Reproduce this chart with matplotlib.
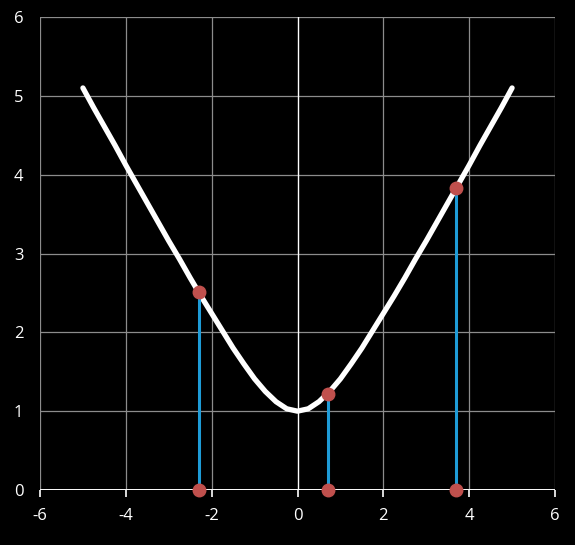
import matplotlib
matplotlib.use('Agg')
import matplotlib.pyplot as plt

# curve values (x step 0.25)
curve_x = [-5.0, -4.75, -4.5, -4.25, -4.0, -3.75, -3.5, -3.25, -3.0, -2.75,
           -2.5, -2.25, -2.0, -1.75, -1.5, -1.25, -1.0, -0.75, -0.5, -0.25,
           0.0, 0.25, 0.5, 0.75, 1.0, 1.25, 1.5, 1.75, 2.0, 2.25,
           2.5, 2.75, 3.0, 3.25, 3.5, 3.75, 4.0, 4.25, 4.5, 4.75, 5.0]
curve_y = [5.10, 4.85, 4.61, 4.37, 4.12, 3.88, 3.64, 3.40, 3.16, 2.93,
           2.69, 2.46, 2.24, 2.02, 1.80, 1.60, 1.41, 1.25, 1.12, 1.03,
           1.00, 1.03, 1.12, 1.25, 1.41, 1.60, 1.80, 2.02, 2.24, 2.46,
           2.69, 2.93, 3.16, 3.40, 3.64, 3.88, 4.12, 4.37, 4.61, 4.85, 5.10]

# sample points
pts_x = [-2.3, 0.7, 3.7]
pts_y = [2.51, 1.22, 3.83]

xticks = [-6, -4, -2, 0, 2, 4, 6]
yticks = [0, 1, 2, 3, 4, 5, 6]

plt.rcParams['font.family'] = ['Open Sans', 'DejaVu Sans']

fig = plt.figure(figsize=(5.75, 5.45), dpi=100, facecolor='black')
ax = fig.add_axes([40/575, 55/545, 515/575, 473/545], facecolor='black')

grid_c = '#8c8c8c'
for t in xticks:
    if t != 0:
        ax.axvline(t, color=grid_c, lw=0.9, zorder=1)
for t in yticks[1:]:
    ax.axhline(t, color=grid_c, lw=0.9, zorder=1)
ax.axvline(0, color='white', lw=1.0, zorder=1)
ax.axhline(0, color='white', lw=1.4, zorder=2)

ax.plot(curve_x, curve_y, color='white', lw=3.8, solid_capstyle='round',
        solid_joinstyle='round', zorder=3)

for px, py in zip(pts_x, pts_y):
    ax.plot([px, px], [0, py], color='#1e9bd7', lw=2.2, zorder=4)
ax.plot(pts_x, pts_y, 'o', color='#c0504d', ms=9, zorder=5, clip_on=False)
ax.plot(pts_x, [0]*len(pts_x), 'o', color='#c0504d', ms=9, zorder=5, clip_on=False)

ax.set_xlim(-6, 6)
ax.set_ylim(0, 6)
ax.set_xticks(xticks)
ax.set_yticks(yticks)
ax.set_xticklabels([str(t) for t in xticks])
ax.set_yticklabels([str(t) for t in yticks])
ax.tick_params(axis='x', colors='white', length=5, width=1.2, pad=8, labelsize=12, direction='out')
ax.tick_params(axis='y', colors='white', length=0, pad=12, labelsize=12)
for s in ax.spines.values():
    s.set_visible(False)

fig.savefig('out.png', dpi=100, facecolor='black')
